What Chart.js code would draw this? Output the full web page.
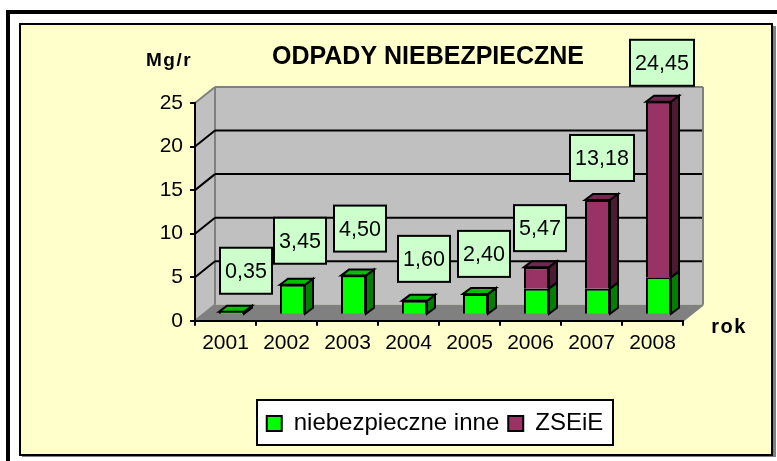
<!DOCTYPE html>
<html>
<head>
<meta charset="utf-8">
<title>Odpady niebezpieczne</title>
<script src="https://cdn.jsdelivr.net/npm/chart.js@4/dist/chart.umd.min.js"></script>
<style>
	html, body { margin: 0; padding: 0; background: #fff; overflow: hidden; }
	canvas { display: block; }
</style>
</head>
<body>
<canvas id="odpady" width="777" height="461"></canvas>
<script>
var categories = ['2001', '2002', '2003', '2004', '2005', '2006', '2007', '2008'];
var niebezpieczneInne = [0.35, 3.45, 4.5, 1.6, 2.4, 3.0, 3.0, 4.3];
var zseie = [null, null, null, null, null, 2.47, 10.18, 20.15];

// hand placed data labels in the original, offset from category centre / stack top
var labelShiftX = [20.5, 13.5, 12.5, 15.5, 14.5, 9.5, 10.5, 9.5];
var labelShiftY = [-47, -50, -53, -48, -46, -45, -48, -45];

var FONT = '"Liberation Sans", Arial, sans-serif';
var WALL_DX = 20, WALL_DY = -16;   // depth of the floor / side wall
var BAR_DX = 6, BAR_DY = -6;       // bars stand in the middle of the floor
var SIDE_DX = 8, SIDE_DY = -6;     // depth of a bar

function poly(ctx, pts, fill, stroke, width) {
	ctx.beginPath();
	ctx.moveTo(pts[0][0], pts[0][1]);
	for (var i = 1; i < pts.length; i++) ctx.lineTo(pts[i][0], pts[i][1]);
	ctx.closePath();
	if (fill) { ctx.fillStyle = fill; ctx.fill(); }
	if (stroke) { ctx.strokeStyle = stroke; ctx.lineWidth = width; ctx.lineJoin = 'miter'; ctx.stroke(); }
}

function line(ctx, x1, y1, x2, y2, color, width) {
	ctx.beginPath();
	ctx.moveTo(x1, y1);
	ctx.lineTo(x2, y2);
	ctx.strokeStyle = color;
	ctx.lineWidth = width;
	ctx.stroke();
}

function label(ctx, text, x, y, font, spacing) {
	ctx.font = font;
	ctx.letterSpacing = spacing || '0px';
	ctx.fillStyle = '#000';
	ctx.textAlign = 'center';
	ctx.textBaseline = 'middle';
	ctx.fillText(text, x, y);
	ctx.letterSpacing = '0px';
}

var scene = {
	id: 'scene',
	afterLayout: function(chart) {
		// legend sits under the middle of the legend box, not the whole canvas
		chart.legend.left = 257;
		chart.legend.right = 613;
	},
	beforeDraw: function(chart) {
		var ctx = chart.ctx, a = chart.chartArea, y = chart.scales.y;
		ctx.save();
		// outer black frame + yellow panel
		ctx.fillStyle = '#fff';
		ctx.fillRect(0, 0, 777, 461);
		ctx.fillStyle = '#000';
		ctx.fillRect(6, 10, 771, 4);
		ctx.fillRect(6, 10, 4, 451);
		ctx.fillStyle = '#808080';
		ctx.fillRect(22, 26, 754, 431);
		ctx.fillStyle = '#FFFFCC';
		ctx.fillRect(20, 24, 752, 431);
		ctx.strokeStyle = '#000';
		ctx.lineWidth = 2;
		ctx.strokeRect(20, 24, 752, 431);

		// walls and floor
		var bl = a.left + WALL_DX, br = a.right + WALL_DX;
		var bt = a.top + WALL_DY, bb = a.bottom + WALL_DY;
		poly(ctx, [[a.left, a.bottom], [bl, bb], [bl, bt], [a.left, a.top]], '#C0C0C0');
		ctx.fillStyle = '#C0C0C0';
		ctx.fillRect(bl, bt, br - bl, bb - bt);
		poly(ctx, [[a.left, a.bottom], [a.right, a.bottom], [br, bb], [bl, bb]], '#808080');
		line(ctx, a.left, a.top, bl, bt, '#808080', 2);
		line(ctx, bl, bt, br, bt, '#808080', 2);
		line(ctx, br, bt, br, bb, '#808080', 2);
		line(ctx, bl, bt, bl, bb, '#808080', 2);
		line(ctx, a.left, a.bottom, bl, bb, '#808080', 2);
		line(ctx, a.right, a.bottom, br, bb, '#808080', 2);

		// gridlines go round the back wall
		y.ticks.forEach(function(t) {
			if (t.value === 0 || t.value === 25) return;
			var py = y.getPixelForValue(t.value);
			line(ctx, a.left, py, bl, py + WALL_DY, '#000', 2);
			line(ctx, bl, py + WALL_DY, br - 1, py + WALL_DY, '#000', 2);
		});

		// white box behind the legend
		ctx.fillStyle = '#fff';
		ctx.fillRect(257, 400, 356, 45);
		ctx.strokeStyle = '#000';
		ctx.strokeRect(257, 400, 356, 45);
		ctx.restore();
	},
	beforeDatasetDraw: function(chart, args) {
		var ctx = chart.ctx, sides = args.meta.controller.getDataset().sideColors;
		ctx.save();
		ctx.translate(BAR_DX, BAR_DY);
		args.meta.data.forEach(function(bar, i) {
			var p = bar.getProps(['x', 'y', 'base', 'width'], true);
			if (isNaN(p.y) || p.y === p.base) return;
			var l = p.x - p.width / 2, r = p.x + p.width / 2;
			poly(ctx, [[r, p.y], [r + SIDE_DX, p.y + SIDE_DY], [r + SIDE_DX, p.base + SIDE_DY], [r, p.base]], sides.side, '#000', 2);
			// top face only on the top block of the stack
			if (args.index === 1 || zseie[i] == null) {
				poly(ctx, [[l, p.y], [l + SIDE_DX, p.y + SIDE_DY], [r + SIDE_DX, p.y + SIDE_DY], [r, p.y]], sides.top, '#000', 2);
			}
		});
	},
	afterDatasetDraw: function(chart) {
		chart.ctx.restore();
	},
	afterDatasetsDraw: function(chart) {
		var ctx = chart.ctx, x = chart.scales.x, y = chart.scales.y;
		ctx.save();
		categories.forEach(function(c, i) {
			var total = niebezpieczneInne[i] + (zseie[i] || 0);
			var text = total.toFixed(2).replace('.', ',');
			var cx = x.getPixelForValue(i) + labelShiftX[i];
			var cy = y.getPixelForValue(total) + labelShiftY[i];
			var w = text.length > 4 ? 64 : 52, h = 46;
			ctx.fillStyle = '#CCFFCC';
			ctx.fillRect(cx - w / 2, cy - h / 2, w, h);
			ctx.strokeStyle = '#000';
			ctx.lineWidth = 2;
			ctx.strokeRect(cx - w / 2, cy - h / 2, w, h);
			label(ctx, text, cx, cy + 1, '21.5px ' + FONT);
		});
		label(ctx, 'ODPADY NIEBEZPIECZNE', 428, 57, 'bold 25px ' + FONT);
		label(ctx, 'Mg/r', 169, 61, 'bold 19px ' + FONT, '1.5px');
		label(ctx, 'rok', 729, 327, 'bold 20px ' + FONT, '1.5px');
		ctx.restore();
	}
};

new Chart(document.getElementById('odpady').getContext('2d'), {
	type: 'bar',
	data: {
		labels: categories,
		datasets: [{
			label: 'niebezpieczne inne',
			data: niebezpieczneInne,
			backgroundColor: '#00FF00',
			borderColor: '#000',
			borderWidth: 2,
			sideColors: { side: '#008000', top: '#00C000' }
		}, {
			label: 'ZSEiE',
			data: zseie,
			backgroundColor: '#993366',
			borderColor: '#000',
			borderWidth: 2,
			sideColors: { side: '#4D1A33', top: '#732650' }
		}]
	},
	options: {
		responsive: false,
		animation: false,
		events: [],
		barPercentage: 0.41,
		categoryPercentage: 1,
		layout: { padding: { left: 100, right: 94, top: 103, bottom: 15.6 } },
		plugins: {
			title: { display: false },
			tooltip: { enabled: false },
			legend: {
				position: 'bottom',
				labels: {
					color: '#000',
					boxWidth: 15,
					boxHeight: 15,
					padding: 9,
					font: { family: FONT, size: 24 }
				}
			}
		},
		scales: {
			x: {
				stacked: true,
				afterFit: function(scale) { scale.height = 81.6; },
				grid: { drawOnChartArea: false, color: '#000', lineWidth: 2, tickLength: 5 },
				border: { color: '#000', width: 2 },
				ticks: { color: '#000', padding: 5, maxRotation: 0, font: { family: FONT, size: 21 } }
			},
			y: {
				stacked: true,
				min: 0,
				max: 25,
				afterFit: function(scale) { scale.width = 95; },
				grid: { drawOnChartArea: false, color: '#000', lineWidth: 2, tickLength: 5 },
				border: { color: '#000', width: 2 },
				ticks: { color: '#000', stepSize: 5, padding: 7, font: { family: FONT, size: 21 } }
			}
		}
	},
	plugins: [scene]
});
</script>
</body>
</html>
